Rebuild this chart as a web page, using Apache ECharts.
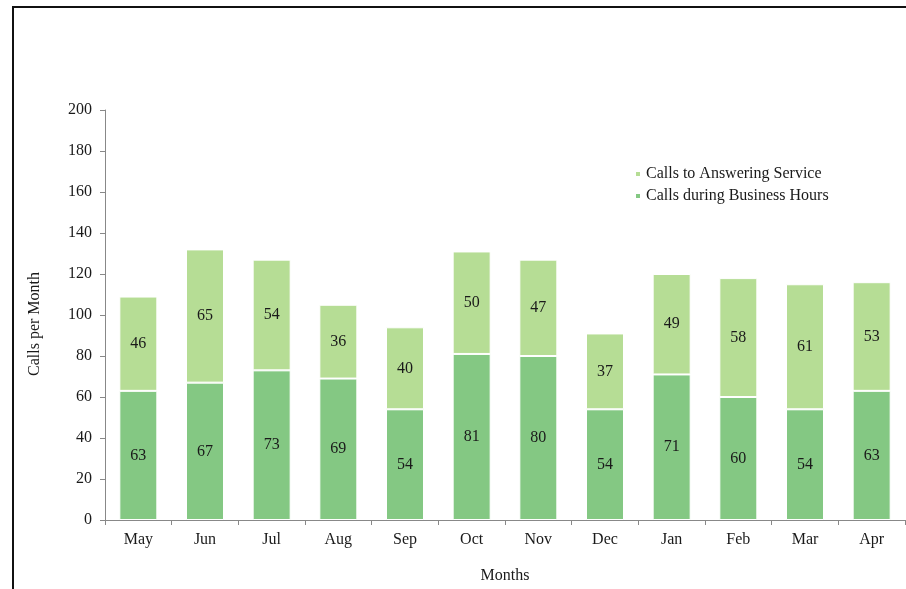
<!DOCTYPE html>
<html><head><meta charset="utf-8">
<script src="https://cdn.jsdelivr.net/npm/echarts@6/dist/echarts.min.js"></script>
<style>html,body{margin:0;padding:0;background:#fff}#c{width:906px;height:589px}
#b{position:absolute;left:12px;top:6px;width:900px;height:600px;border-left:2px solid #111;border-top:2px solid #111;pointer-events:none}</style>
</head><body><div id="c"></div><div id="b"></div>
<script>
const months = ['May','Jun','Jul','Aug','Sep','Oct','Nov','Dec','Jan','Feb','Mar','Apr'];
const businessHours = [63,67,73,69,54,81,80,54,71,60,54,63];
const answeringService = [46,65,54,36,40,50,47,37,49,58,61,53];
const yTicks = [0,20,40,60,80,100,120,140,160,180,200];

const font = '"Liberation Serif", "Times New Roman", serif';
const fs = 16;
const chart = echarts.init(document.getElementById('c'));
chart.setOption({
  animation:false,
  textStyle:{fontFamily:font},
  grid:{left:105,right:1,top:110,bottom:69},
  legend:{
    orient:'vertical', left:629, top:161, itemWidth:6, itemHeight:6, itemGap:6,
    icon:'rect',
    data:['Calls to Answering Service','Calls during Business Hours'],
    textStyle:{fontFamily:font,fontSize:fs,color:'#1a1a1a'}
  },
  xAxis:{
    type:'category', data:months, name:'Months', nameLocation:'middle', nameGap:48,
    nameTextStyle:{fontFamily:font,fontSize:fs,color:'#1a1a1a'},
    axisLine:{lineStyle:{color:'#888',width:1}},
    axisTick:{show:true,length:5,lineStyle:{color:'#888'}},
    axisLabel:{fontFamily:font,fontSize:fs,color:'#1a1a1a',margin:12}
  },
  yAxis:{
    type:'value', min:0, max:200, interval:20, name:'Calls per Month', nameLocation:'middle', nameGap:62,
    nameTextStyle:{fontFamily:font,fontSize:fs,color:'#1a1a1a',padding:[0,18,0,0]},
    axisLine:{show:true,lineStyle:{color:'#888',width:1}},
    axisTick:{show:true,length:5,lineStyle:{color:'#888'}},
    splitLine:{show:false},
    axisLabel:{fontFamily:font,fontSize:fs,color:'#1a1a1a',margin:13,
      formatter:v=>yTicks.includes(v)?String(v):''}
  },
  series:[
    {name:'Calls during Business Hours',type:'bar',stack:'s',data:businessHours,barWidth:'57%',
     itemStyle:{color:'#84c883',borderColor:'#fff',borderWidth:1},
     label:{show:true,position:'inside',fontFamily:font,fontSize:fs,color:'#1a1a1a'}},
    {name:'Calls to Answering Service',type:'bar',stack:'s',data:answeringService,barWidth:'57%',
     itemStyle:{color:'#b6dd95',borderColor:'#fff',borderWidth:1},
     label:{show:true,position:'inside',fontFamily:font,fontSize:fs,color:'#1a1a1a'}}
  ]
});
</script></body></html>
